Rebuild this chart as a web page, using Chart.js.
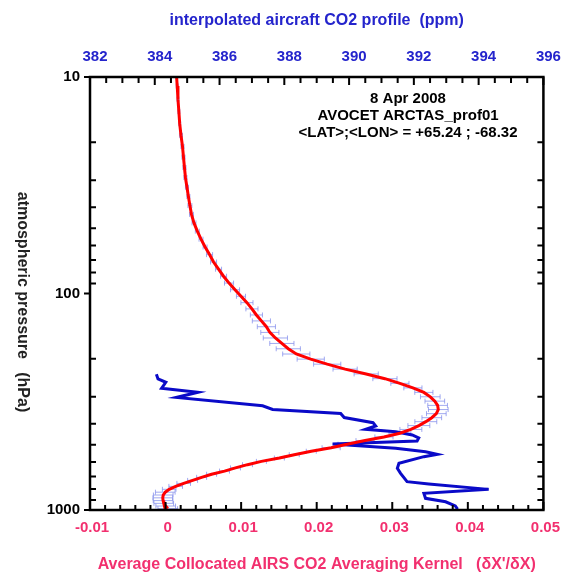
<!DOCTYPE html>
<html>
<head>
<meta charset="utf-8">
<script src="https://cdn.jsdelivr.net/npm/chart.js@4.4.1/dist/chart.umd.min.js"></script>
<style>
  html, body { margin: 0; padding: 0; background: #ffffff; }
  #wrap { width: 567px; height: 584px; }
</style>
</head>
<body>
<div id="wrap"><canvas id="chart" width="567" height="584"></canvas></div>
<script>
// AIRS pressure levels (hPa) on which the averaging kernel is reported
const pressureLevels = [
  9.5119, 11.0038, 12.6492, 14.4559, 16.4318, 18.5847, 20.9224, 23.4526, 26.1829, 29.121,
  32.2744, 35.6505, 39.2566, 43.1001, 47.1882, 51.5278, 56.126, 60.9895, 66.1253, 71.5398,
  77.2396, 83.231, 89.5204, 96.1138, 103.0172, 110.2366, 117.7775, 125.6456, 133.8462, 142.3848,
  151.2664, 160.4959, 170.0784, 180.0183, 190.3203, 200.9887, 212.0277, 223.4415, 235.2338, 247.4085,
  259.9691, 272.9191, 286.2617, 300.0, 314.1369, 328.6753, 343.6176, 358.9665, 374.7241, 390.8926,
  407.4738, 424.4698, 441.8819, 459.7118, 477.9607, 496.6298, 515.72, 535.2322, 555.1669, 575.5248,
  596.3062, 617.5112, 639.1398, 661.192, 683.6673, 706.5654, 729.8857, 753.6275, 777.7897, 802.3714,
  827.3713, 852.788, 878.6201, 904.8659, 931.5236, 958.5911, 986.0666
];

// average collocated AIRS CO2 averaging kernel (dX'/dX)
const kernel = [
  0.00142, 0.00154, 0.00164, 0.00176, 0.00187, 0.00204, 0.00224, 0.00237, 0.00250, 0.00263,
  0.00283, 0.00302, 0.00322, 0.00343, 0.00376, 0.00420, 0.00469, 0.00523, 0.00582, 0.00635,
  0.00701, 0.00767, 0.00840, 0.00919, 0.00998, 0.01077, 0.01143, 0.01202, 0.01268, 0.01334,
  0.01380, 0.01453, 0.01539, 0.01624, 0.01730, 0.01921, 0.02139, 0.02376, 0.02655, 0.02903,
  0.03101, 0.03273, 0.03418, 0.03503, 0.03563, 0.03600, 0.03609, 0.03583, 0.03523, 0.03444,
  0.03352, 0.03246, 0.03101, 0.02890, 0.02640, 0.02402, 0.02191, 0.01928, 0.01703, 0.01506,
  0.01268, 0.01084, 0.00925, 0.00780, 0.00609, 0.00477, 0.00358, 0.00240, 0.00134, 0.00048,
  -0.00004, -0.00031, -0.00037, -0.00033, -0.00024, 0.00002, 0.00029
];

// spread of the kernel between collocated footprints (half width)
const kernelSpread = [
  0.00013, 0.00013, 0.00013, 0.00013, 0.00013, 0.0002, 0.0002, 0.0002, 0.0002, 0.0002,
  0.0002, 0.0002, 0.00026, 0.00026, 0.00026, 0.00026, 0.00026, 0.00026, 0.0004, 0.0004,
  0.0004, 0.0004, 0.0006, 0.0006, 0.0006, 0.0008, 0.0008, 0.0008, 0.0012, 0.0012,
  0.0012, 0.0016, 0.0016, 0.0016, 0.0018, 0.0018, 0.0018, 0.0016, 0.0016, 0.0016,
  0.0012, 0.0012, 0.0012, 0.0013, 0.0013, 0.0013, 0.0013, 0.0013, 0.0013, 0.00145,
  0.00145, 0.00145, 0.00145, 0.0012, 0.0012, 0.0012, 0.0012, 0.00066, 0.00066, 0.00066,
  0.00066, 0.00066, 0.00066, 0.00066, 0.00066, 0.00066, 0.00066, 0.0009, 0.0009, 0.0009,
  0.0013, 0.0013, 0.0013, 0.0013, 0.0013, 0.0013, 0.0013
];

// interpolated aircraft CO2 profile (ppm) against pressure (hPa)
const aircraftPressure = [
  236, 248, 257, 274, 286, 302, 330, 343, 358, 374,
  395, 409, 424, 435, 450, 465, 480, 496, 519, 538,
  553, 567, 608, 642, 677, 740, 758, 803, 837, 883,
  916, 958, 990
];
const aircraftCO2 = [
  384.05, 384.10, 384.34, 384.21, 385.33, 384.67, 387.33, 387.64, 389.74, 389.85,
  390.74, 390.82, 390.51, 391.44, 391.95, 392.15, 392.10, 389.49, 391.44, 392.36,
  392.72, 392.31, 391.54, 391.49, 391.59, 391.79, 392.46, 394.31, 392.31, 392.36,
  392.98, 393.28, 393.35
];

// axis tick labels
const kernelTicks = [-0.01, 0, 0.01, 0.02, 0.03, 0.04, 0.05];
const co2Ticks = [382, 384, 386, 388, 390, 392, 394, 396];
const pressureTicks = [10, 100, 1000];

const infoLines = ['8 Apr 2008', 'AVOCET ARCTAS_prof01', '<LAT>;<LON> = +65.24 ; -68.32'];
const pressureTitle = 'atmospheric pressure   (hPa)';

const FONT = '"Liberation Sans", Arial, Helvetica, sans-serif';
const PINK = '#f2306f';
const BLUE = '#2424cc';

// horizontal error bars around the kernel curve
const spreadBars = {
  id: 'spreadBars',
  beforeDatasetsDraw(chart) {
    const { ctx, chartArea: a } = chart;
    const sx = chart.scales.x, sy = chart.scales.y;
    ctx.save();
    ctx.beginPath();
    ctx.rect(a.left, a.top, a.right - a.left, a.bottom - a.top);
    ctx.clip();
    ctx.strokeStyle = 'rgba(130,140,235,0.75)';
    ctx.lineWidth = 1;
    for (let i = 0; i < pressureLevels.length; i++) {
      const y = sy.getPixelForValue(pressureLevels[i]);
      const xl = sx.getPixelForValue(kernel[i] - kernelSpread[i]);
      const xr = sx.getPixelForValue(kernel[i] + kernelSpread[i]);
      ctx.beginPath();
      ctx.moveTo(xl, y); ctx.lineTo(xr, y);
      ctx.moveTo(xl, y - 2.5); ctx.lineTo(xl, y + 2.5);
      ctx.moveTo(xr, y - 2.5); ctx.lineTo(xr, y + 2.5);
      ctx.stroke();
    }
    ctx.restore();
  }
};

// plot frame with inward tick marks, the pressure axis title and the profile annotation
const frame = {
  id: 'frame',
  afterDatasetsDraw(chart) {
    const { ctx, chartArea: a } = chart;
    const sx = chart.scales.x, st = chart.scales.x2, sy = chart.scales.y;
    ctx.save();
    ctx.strokeStyle = '#000';
    ctx.lineWidth = 2;
    ctx.beginPath();
    const seg = (x1, y1, x2, y2) => { ctx.moveTo(x1, y1); ctx.lineTo(x2, y2); };
    for (let i = 0; i < kernelTicks.length; i++) {
      const v = kernelTicks[i];
      const x = sx.getPixelForValue(v);
      seg(x, a.bottom, x, a.bottom - 8);
      if (i < kernelTicks.length - 1) {
        const step = (kernelTicks[i + 1] - v) / 5;
        for (let j = 1; j < 5; j++) {
          const xm = sx.getPixelForValue(v + step * j);
          seg(xm, a.bottom, xm, a.bottom - 5);
        }
      }
    }
    for (let i = 0; i < co2Ticks.length; i++) {
      const v = co2Ticks[i];
      const x = st.getPixelForValue(v);
      seg(x, a.top, x, a.top + 8);
      if (i < co2Ticks.length - 1) {
        const step = (co2Ticks[i + 1] - v) / 4;
        for (let j = 1; j < 4; j++) {
          const xm = st.getPixelForValue(v + step * j);
          seg(xm, a.top, xm, a.top + 6);
        }
      }
    }
    for (let i = 0; i < pressureTicks.length; i++) {
      const p = pressureTicks[i];
      const y = sy.getPixelForValue(p);
      seg(a.left - 6, y, a.left, y);
      if (i < pressureTicks.length - 1) {
        for (let m = 2; m < 10; m++) {
          const ym = sy.getPixelForValue(p * m);
          seg(a.left, ym, a.left + 6, ym);
          seg(a.right - 6, ym, a.right, ym);
        }
      }
    }
    ctx.stroke();
    ctx.lineWidth = 2.5;
    ctx.strokeRect(a.left, a.top, a.right - a.left, a.bottom - a.top);

    ctx.textAlign = 'center';
    ctx.textBaseline = 'middle';

    // pressure axis title, reading downward
    ctx.save();
    ctx.translate(22, 302);
    ctx.rotate(Math.PI / 2);
    ctx.fillStyle = '#222';
    ctx.font = 'bold 16px ' + FONT;
    ctx.fillText(pressureTitle, 0, 0);
    ctx.restore();

    ctx.fillStyle = '#000';
    ctx.font = 'bold 15px ' + FONT;
    infoLines.forEach((t, k) => ctx.fillText(t, 408, 99 + k * 17));
    ctx.restore();
  }
};

const tickFont = { family: FONT, size: 15, weight: 'bold' };
const titleFont = { family: FONT, size: 16, weight: 'bold' };

new Chart(document.getElementById('chart'), {
  type: 'scatter',
  data: {
    datasets: [
      {
        label: 'averaging kernel',
        data: pressureLevels.map((p, i) => ({ x: kernel[i], y: p })),
        xAxisID: 'x', yAxisID: 'y',
        showLine: true, borderColor: '#ff0000', borderWidth: 3,
        pointRadius: 0, tension: 0
      },
      {
        label: 'aircraft CO2',
        data: aircraftPressure.map((p, i) => ({ x: aircraftCO2[i], y: p })),
        xAxisID: 'x2', yAxisID: 'y',
        showLine: true, borderColor: '#0a0ac8', borderWidth: 3,
        pointRadius: 0, tension: 0
      }
    ]
  },
  options: {
    responsive: false,
    animation: false,
    devicePixelRatio: 1,
    layout: { padding: { left: 0, right: 22, top: 0, bottom: 0 } },
    plugins: { legend: { display: false }, tooltip: { enabled: false } },
    scales: {
      x: {
        type: 'linear', position: 'bottom', min: -0.01, max: 0.05,
        afterBuildTicks: s => { s.ticks = kernelTicks.map(v => ({ value: v })); },
        afterFit: s => { s.height = 74; },
        grid: { display: false, drawTicks: false },
        border: { display: false },
        ticks: {
          color: PINK, font: tickFont, padding: 9, maxRotation: 0, autoSkip: false, labelOffset: 2,
          callback: v => String(Number(v.toFixed(2)))
        },
        title: {
          display: true, text: "Average Collocated AIRS CO2 Averaging Kernel   (\u03B4X'/\u03B4X)",
          color: PINK, font: titleFont, padding: { top: 0, bottom: 10 }
        }
      },
      x2: {
        type: 'linear', position: 'top', min: 382, max: 396,
        afterBuildTicks: s => { s.ticks = co2Ticks.map(v => ({ value: v })); },
        afterFit: s => { s.height = 77; },
        grid: { display: false, drawTicks: false },
        border: { display: false },
        ticks: { color: BLUE, font: tickFont, padding: 11, maxRotation: 0, autoSkip: false, labelOffset: 5 },
        title: {
          display: true, text: 'interpolated aircraft CO2 profile  (ppm)',
          color: BLUE, font: titleFont, padding: { top: 11, bottom: 0 }
        }
      },
      y: {
        type: 'logarithmic', position: 'left', reverse: true, min: 10, max: 1000,
        afterBuildTicks: s => { s.ticks = pressureTicks.map(v => ({ value: v })); },
        afterFit: s => { s.width = 90; },
        grid: { display: false, drawTicks: false },
        border: { display: false },
        ticks: { color: '#000', font: tickFont, padding: 10, autoSkip: false, callback: v => String(v) },
        title: { display: false }
      }
    }
  },
  plugins: [spreadBars, frame]
});
</script>
</body>
</html>
